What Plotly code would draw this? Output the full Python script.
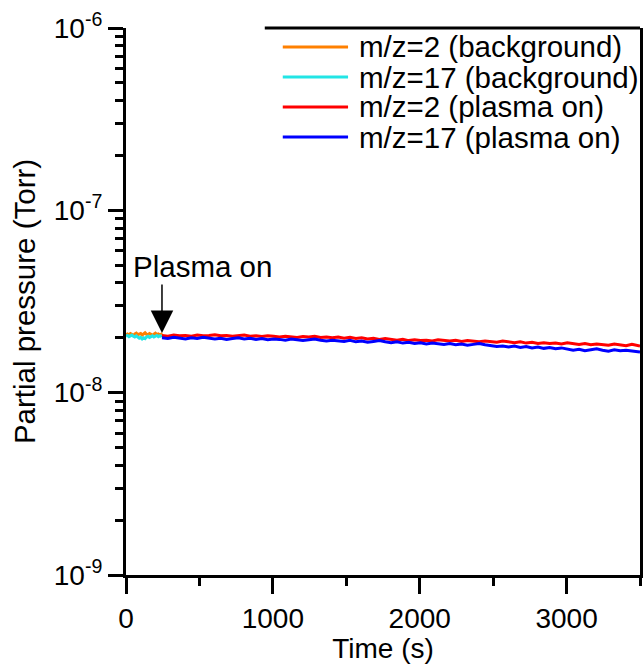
import plotly.graph_objects as go

# ---- data (partial pressure in units of 1e-8 Torr) ----
time_bg = list(range(0, 246, 10)) + [245]
mz2_bg = [2.08, 2.10, 2.07, 2.11, 2.09, 2.06, 2.10, 2.12, 2.08, 2.09, 2.11, 2.07, 2.10,
          2.13, 2.09, 2.08, 2.11, 2.10, 2.07, 2.09, 2.12, 2.08, 2.10, 2.07, 2.09, 2.06]
mz17_bg = [2.04, 2.06, 2.03, 2.05, 2.07, 2.04, 2.02, 2.05, 2.03, 1.99, 2.01, 1.97, 2.00,
           1.98, 2.02, 2.04, 2.01, 2.03, 2.05, 2.02, 2.04, 2.06, 2.03, 2.05, 2.04, 2.02]

time_on = list(range(245, 3500, 40)) + [3500]
mz2_on = [2.06, 2.04, 2.07, 2.05, 2.06, 2.04, 2.07, 2.05, 2.06, 2.08,
          2.05, 2.06, 2.04, 2.05, 2.07, 2.04, 2.05, 2.03, 2.05, 2.04,
          2.02, 2.04, 2.03, 2.01, 2.03, 2.02, 2.04, 2.01, 2.02, 2.00,
          2.02, 1.99, 2.01, 1.98, 2.00, 1.97, 1.99, 1.96, 1.98, 1.96,
          1.94, 1.96, 1.93, 1.95, 1.93, 1.94, 1.92, 1.95, 1.93, 1.92,
          1.94, 1.91, 1.93, 1.92, 1.90, 1.92, 1.91, 1.89, 1.92, 1.90,
          1.88, 1.90, 1.87, 1.89, 1.86, 1.88, 1.86, 1.87, 1.85, 1.88,
          1.86, 1.84, 1.86, 1.83, 1.85, 1.84, 1.82, 1.85, 1.83, 1.81,
          1.84, 1.82, 1.80]
mz17_on = [2.00, 1.98, 2.01, 1.99, 1.97, 2.00, 1.98, 2.01, 1.99, 1.97,
           1.99, 1.96, 1.98, 2.00, 1.97, 1.99, 1.96, 1.98, 1.95, 1.97,
           1.96, 1.94, 1.97, 1.95, 1.93, 1.95, 1.97, 1.94, 1.92, 1.94,
           1.93, 1.91, 1.94, 1.90, 1.92, 1.89, 1.91, 1.93, 1.90, 1.88,
           1.90, 1.87, 1.89, 1.86, 1.88, 1.85, 1.87, 1.86, 1.84, 1.86,
           1.83, 1.85, 1.82, 1.84, 1.86, 1.83, 1.81, 1.79, 1.80, 1.78,
           1.80, 1.77, 1.79, 1.76, 1.78, 1.75, 1.77, 1.74, 1.76, 1.73,
           1.71, 1.73, 1.70, 1.72, 1.74, 1.71, 1.69, 1.72, 1.70, 1.71,
           1.69, 1.68, 1.67]

series_names = ["m/z=2 (background)", "m/z=17 (background)",
                "m/z=2 (plasma on)", "m/z=17 (plasma on)"]
series_colors = ["#FF8000", "#22E5E5", "#FF0000", "#0000FF"]

x_tickvals = [0, 1000, 2000, 3000]
x_minor = [500, 1500, 2500, 3500]
y_tickvals = [1e-9, 1e-8, 1e-7, 1e-6]
y_ticktext = ["10<sup>-9</sup>", "10<sup>-8</sup>", "10<sup>-7</sup>", "10<sup>-6</sup>"]
y_minor = [k * 10.0 ** e for e in (-9, -8, -7) for k in range(2, 10)]

scale = 1e-8
series = [(time_bg, mz2_bg), (time_bg, mz17_bg), (time_on, mz2_on), (time_on, mz17_on)]

fig = go.Figure()
for (t, v), name, col in zip(series, series_names, series_colors):
    fig.add_trace(go.Scatter(x=t, y=[val * scale for val in v], mode="lines", name=name,
                             line=dict(color=col, width=3), showlegend=False))

FONT = "Liberation Sans, Arial, sans-serif"
fig.update_layout(
    width=643, height=664,
    margin=dict(l=126, r=3, t=28, b=89),
    plot_bgcolor="white", paper_bgcolor="white",
    font=dict(family=FONT, size=28, color="black"),
    showlegend=False,
)
fig.update_xaxes(
    range=[0, 3500], tickmode="array", tickvals=x_tickvals, automargin=False,
    ticks="outside", ticklen=16, tickwidth=3, tickcolor="black",
    showline=True, linewidth=3, linecolor="black",
    showgrid=False, zeroline=False,
    tickfont=dict(size=28),
    minor=dict(tickmode="array", tickvals=x_minor, ticks="outside", ticklen=8,
               tickwidth=3, tickcolor="black", showgrid=False),
    title=dict(text="Time (s)", standoff=0, font=dict(size=28)),
)
fig.update_yaxes(
    type="log", range=[-9, -6], tickmode="array", tickvals=y_tickvals, ticktext=y_ticktext,
    automargin=False,
    ticks="outside", ticklen=15, tickwidth=3, tickcolor="black",
    showline=True, linewidth=3, linecolor="black", mirror=True,
    showgrid=False, zeroline=False,
    tickfont=dict(size=28),
    minor=dict(tickmode="array", tickvals=y_minor, ticks="outside", ticklen=8,
               tickwidth=3, tickcolor="black", showgrid=False),
    title=dict(text="Partial pressure (Torr)", standoff=10, font=dict(size=29.5)),
)

# legend frame top edge (visible along the top of the plot)
fig.add_shape(type="line", xref="paper", yref="paper", x0=0.27, x1=1.0, y0=1.0, y1=1.0,
              line=dict(color="black", width=3))

# custom legend
leg_rows_y = [0.9653, 0.9104, 0.8556, 0.8007]
for yy, name, col in zip(leg_rows_y, series_names, series_colors):
    fig.add_shape(type="line", xref="paper", yref="paper", x0=0.305, x1=0.432,
                  y0=yy, y1=yy, line=dict(color=col, width=3))
    fig.add_annotation(xref="paper", yref="paper", x=0.45, y=yy, text=name,
                       showarrow=False, xanchor="left", yanchor="middle",
                       font=dict(size=29.5, family=FONT, color="black"))

# "Plasma on" label and arrow
fig.add_annotation(x=524, y=-7.306, text="Plasma on", showarrow=False,
                   xanchor="center", yanchor="middle", font=dict(size=29.5, family=FONT))
fig.add_annotation(x=245, y=-7.673, text="", showarrow=True, ax=0, ay=-50,
                   arrowhead=2, arrowsize=3, arrowwidth=1.5, arrowcolor="black")

fig.write_html("out.html", config={"displayModeBar": False},
               post_script="document.body.style.margin='0';document.body.style.overflow='hidden';")
